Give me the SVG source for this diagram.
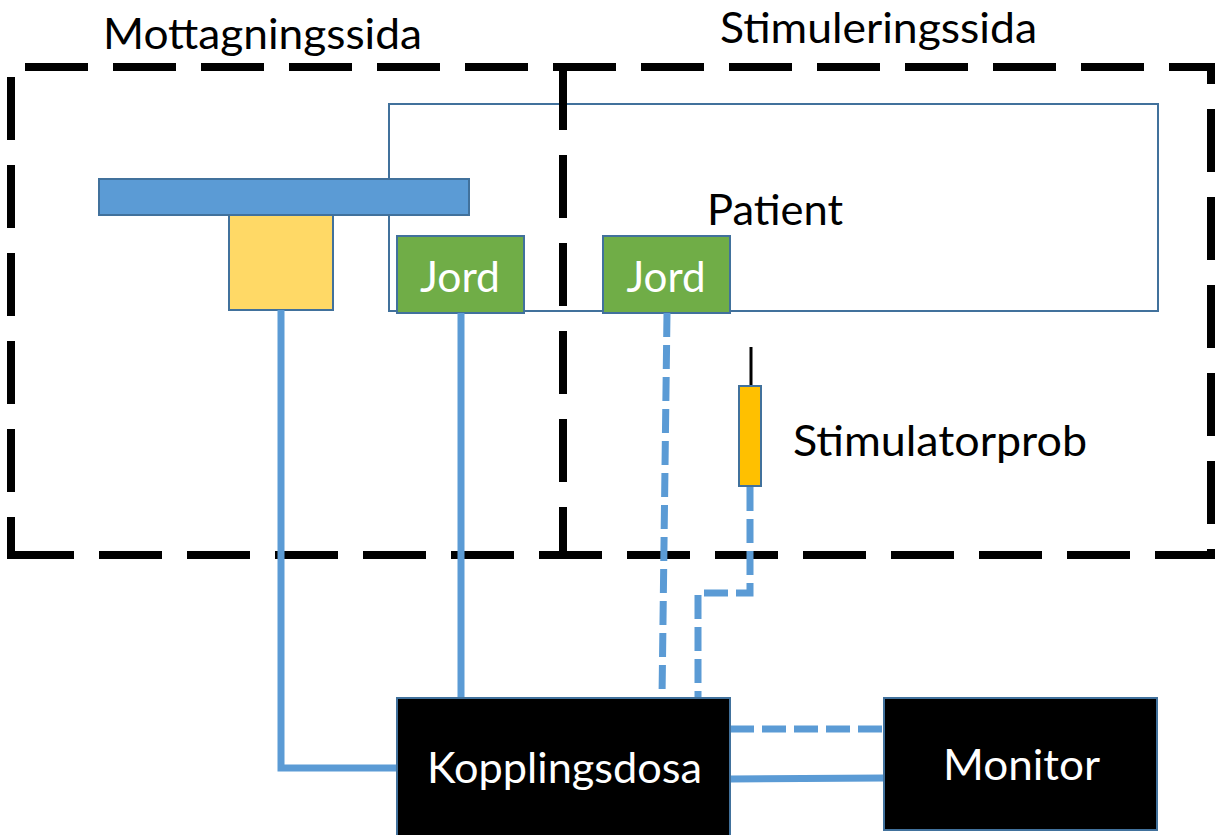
<svg xmlns="http://www.w3.org/2000/svg" width="1215" height="835" viewBox="0 0 1215 835">
<style>
.zone{fill:none;stroke:#000;stroke-width:8;stroke-dasharray:63 25}
.node{stroke:#41719C;stroke-width:2}
.lbl{font-family:Lato,"Liberation Sans",sans-serif;font-size:42px;fill:#000}
.wlbl{font-family:Lato,"Liberation Sans",sans-serif;font-size:42px;fill:#fff}
.wire{fill:none;stroke:#5B9BD5;stroke-width:7}
.dwire{fill:none;stroke:#5B9BD5;stroke-width:7;stroke-dasharray:24 8}
</style>
<rect width="1215" height="835" fill="#fff"/>
<g id="patient">
<rect x="389" y="104" width="769" height="207" fill="none" stroke="#41719C" stroke-width="2"/>
<text class="lbl" x="707" y="225" textLength="136" lengthAdjust="spacingAndGlyphs">Patient</text>
</g>
<g id="mottagningssida">
<path class="zone" d="M7 67H567" stroke-dashoffset="70"/>
<path class="zone" d="M11 63V559" stroke-dashoffset="74"/>
<path class="zone" d="M7 555H567" stroke-dashoffset="84"/>
<path class="zone" d="M563 63V559" stroke-dashoffset="84"/>
<text class="lbl" x="103" y="49" textLength="319" lengthAdjust="spacingAndGlyphs">Mottagningssida</text>
</g>
<g id="stimuleringssida">
<path class="zone" d="M559 67H1215" stroke-dashoffset="6"/>
<path class="zone" d="M559 555H1215" stroke-dashoffset="20"/>
<path class="zone" d="M1211 63V559" stroke-dashoffset="42"/>
<text class="lbl" x="720" y="43" textLength="317" lengthAdjust="spacingAndGlyphs">Stimuleringssida</text>
</g>
<g id="bar">
<rect class="node" x="99" y="179" width="370" height="36" fill="#5B9BD5"/>
</g>
<g id="sensor">
<rect class="node" x="229" y="215" width="104" height="95" fill="#FFD966"/>
</g>
<g id="jord1">
<rect class="node" x="397" y="236" width="127" height="77" fill="#70AD47"/>
<text class="wlbl" x="460" y="292" text-anchor="middle" textLength="80" lengthAdjust="spacingAndGlyphs">Jord</text>
</g>
<g id="jord2">
<rect class="node" x="603" y="236" width="127" height="77" fill="#70AD47"/>
<text class="wlbl" x="666" y="292" text-anchor="middle" textLength="79" lengthAdjust="spacingAndGlyphs">Jord</text>
</g>
<g id="stimulatorprob">
<line x1="751" y1="347" x2="751" y2="385" stroke="#000" stroke-width="3"/>
<rect class="node" x="739" y="386" width="22" height="100" fill="#FFC000"/>
<text class="lbl" x="793" y="456" textLength="294" lengthAdjust="spacingAndGlyphs">Stimulatorprob</text>
</g>
<g id="connectors">
<path class="wire" d="M281 310V768H397"/>
<path class="wire" d="M461 313V698"/>
<path class="dwire" d="M667 313L662 698"/>
<path class="dwire" d="M750 487V593H698V698"/>
<path class="dwire" d="M730 729H884"/>
<path class="wire" d="M730 779L884 778"/>
</g>
<g id="kopplingsdosa">
<rect class="node" x="397" y="698" width="333" height="140" fill="#000"/>
<text class="wlbl" x="427" y="783" textLength="275" lengthAdjust="spacingAndGlyphs">Kopplingsdosa</text>
</g>
<g id="monitor">
<rect class="node" x="884" y="698" width="273" height="132" fill="#000"/>
<text class="wlbl" x="943" y="780" textLength="157" lengthAdjust="spacingAndGlyphs">Monitor</text>
</g>
</svg>
